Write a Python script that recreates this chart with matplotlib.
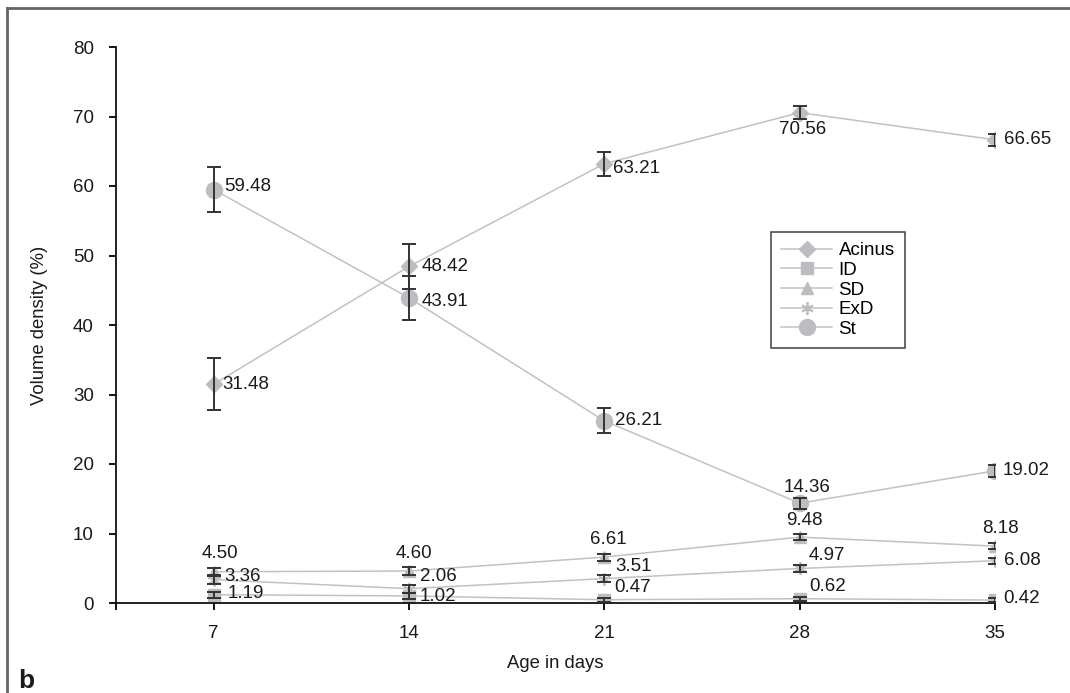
import numpy as np
from matplotlib import pyplot as plt
from matplotlib.lines import Line2D

# data
ages = [7, 14, 21, 28, 35]
series_names = ['Acinus', 'ID', 'SD', 'ExD', 'St']

acinus = [31.48, 48.42, 63.21, 70.56, 66.65]
acinus_err = [3.7, 3.2, 1.7, 0.9, 0.9]
id_vals = [1.19, 1.02, 0.47, 0.62, 0.42]
id_err = [0.4, 0.4, 0.3, 0.3, 0.3]
sd_vals = [4.50, 4.60, 6.61, 9.48, 8.18]
sd_err = [0.6, 0.6, 0.5, 0.4, 0.4]
exd_vals = [3.36, 2.06, 3.51, 4.97, 6.08]
exd_err = [0.6, 0.6, 0.5, 0.5, 0.4]
st_vals = [59.48, 43.91, 26.21, 14.36, 19.02]
st_err = [3.2, 3.2, 1.8, 0.8, 0.9]

plt.rcParams['font.family'] = ['Liberation Sans', 'DejaVu Sans']

fig = plt.figure(figsize=(10.70, 6.93), dpi=100)
ax = fig.add_axes([116/1070, 1-603/693, (995-116)/1070, (603-47)/693])

x = np.arange(len(ages))
grey = '#bdbdc1'
linec = '#c2c2c2'
txtc = '#1a1a1a'

markers = ['D', 's', '^', (6, 2, 0), 'o']
msizes = [8, 9, 9, 9, 11.5]
values = [acinus, id_vals, sd_vals, exd_vals, st_vals]
errors = [acinus_err, id_err, sd_err, exd_err, st_err]

# label offsets in pixels: (dx, dy, ha)
offsets = [
    [(9, 0, 'left'), (13, 0, 'left'), (9, -5, 'left'), (3, -17, 'center'), (9, 0, 'left')],
    [(14, 1, 'left'), (11, -1, 'left'), (10, 12, 'left'), (10, 12, 'left'), (8, 2, 'left')],
    [(6, 18, 'center'), (5, 18, 'center'), (4, 18, 'center'), (5, 17, 'center'), (5, 18, 'center')],
    [(11, 3, 'left'), (11, 12, 'left'), (11, 12, 'left'), (9, 13, 'left'), (9, 0, 'left')],
    [(11, 3, 'left'), (13, -4, 'left'), (11, 0, 'left'), (7, 16, 'center'), (8, 0, 'left')],
]

for name, vals, err, mk, ms, offs in zip(series_names, values, errors, markers, msizes, offsets):
    if mk == (6, 2, 0):
        ax.plot(x, vals, color=linec, lw=1.1, marker=mk, ms=ms, mec=grey, mew=1.3,
                label=name, zorder=2)
    else:
        ax.plot(x, vals, color=linec, lw=1.1, marker=mk, ms=ms, mfc=grey, mec=grey,
                label=name, zorder=2)
    ax.errorbar(x, vals, yerr=err, fmt='none', ecolor='#333333', elinewidth=1.4,
                capsize=5, capthick=1.4, zorder=3)
    for xi, v, (dx, dy, ha) in zip(x, vals, offs):
        ax.annotate('%.2f' % v, (xi, v), xytext=(dx, dy), textcoords='offset pixels',
                    ha=ha, va='center', fontsize=13.5, color=txtc, zorder=4)

ax.set_xlim(-0.5, 4)
ax.set_ylim(0, 80)
ax.set_yticks(range(0, 81, 10))
ax.set_xticks([-0.5] + list(x))
ax.set_xticklabels([''] + [str(a) for a in ages])
for s in ['top', 'right']:
    ax.spines[s].set_visible(False)
for s in ['left', 'bottom']:
    ax.spines[s].set_linewidth(1.3)
    ax.spines[s].set_color('#111111')
ax.tick_params(axis='y', direction='out', length=5, width=1.3, pad=11, labelsize=13.5,
               labelcolor=txtc)
ax.tick_params(axis='x', direction='out', length=5, width=1.3, pad=11, labelsize=13.5,
               labelcolor=txtc)

fig.text(40/1070, 1-325/693, 'Volume density (%)', rotation=90, ha='center', va='center',
         fontsize=13.3, color=txtc)
fig.text(555/1070, 1-663/693, 'Age in days', ha='center', va='center',
         fontsize=13.3, color=txtc)
fig.text(18/1070, 1-688/693, 'b', ha='left', va='baseline', fontsize=19,
         fontweight='bold', color=txtc)

leg = ax.legend(loc='upper left', bbox_to_anchor=(771/1070, 1-232/693),
                bbox_transform=fig.transFigure, borderaxespad=0, fontsize=13.5,
                frameon=True, fancybox=False, handlelength=2.7, labelspacing=0.13,
                handletextpad=0.35, borderpad=0.55)
leg.get_frame().set_edgecolor('#111111')
leg.get_frame().set_linewidth(1.1)

# outer frame (top and left)
fig.add_artist(Line2D([7/1070, 7/1070], [0, 1-8/693], transform=fig.transFigure,
                      color='#666666', lw=2))
fig.add_artist(Line2D([7/1070, 1], [1-8/693, 1-8/693], transform=fig.transFigure,
                      color='#666666', lw=2))

fig.savefig('out.png', dpi=100)
